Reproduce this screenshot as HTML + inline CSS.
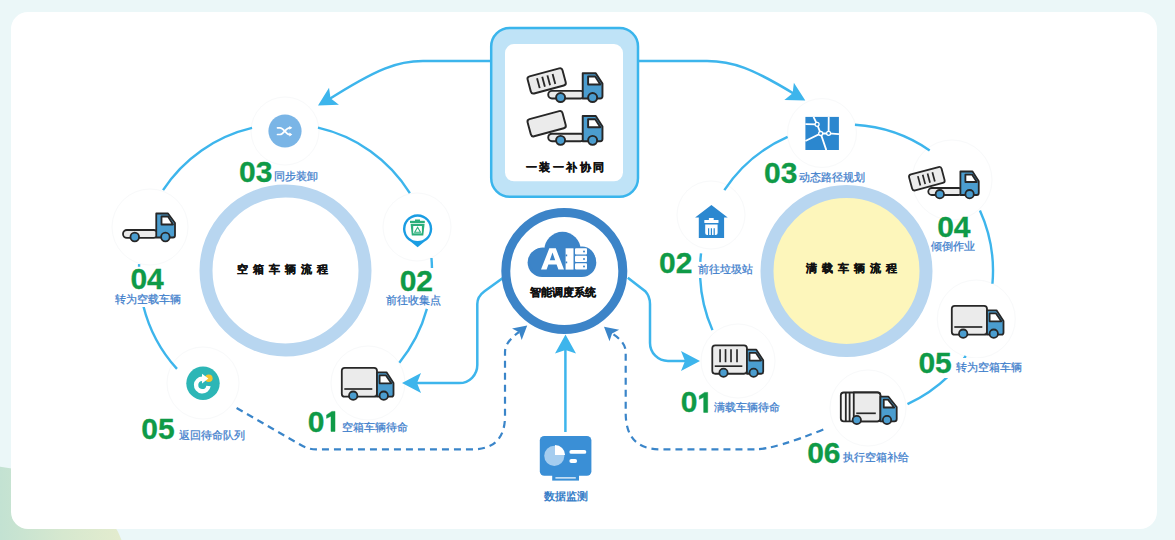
<!DOCTYPE html>
<html><head><meta charset="utf-8"><style>
html,body{margin:0;padding:0;}
body{width:1175px;height:540px;overflow:hidden;position:relative;font-family:"Liberation Sans",sans-serif;
background:#ebf7f8;}
.bg{position:absolute;left:-185px;top:465px;width:310px;height:190px;border-radius:50%;
background:linear-gradient(90deg,#b8ddd5 0%,#c3e2d2 60%,#d6e8cf 80%,#e4ecce 100%);}
.card{position:absolute;left:11px;top:12px;width:1146px;height:517px;background:#fff;border-radius:17px;}
svg{position:absolute;left:0;top:0;}
.num{font-family:"Liberation Sans",sans-serif;font-weight:bold;font-size:30px;fill:#0f9a47;stroke:#0f9a47;stroke-width:0.3px;}
.lbl{font-family:"Liberation Sans",sans-serif;font-size:11px;fill:#3f80cc;stroke:#3f80cc;stroke-width:0.25px;}
.ctr{font-family:"Liberation Sans",sans-serif;font-weight:bold;font-size:11px;fill:#111;letter-spacing:5.0px;stroke:#111;stroke-width:0.3px;}
.boxt{font-family:"Liberation Sans",sans-serif;font-weight:bold;font-size:11px;fill:#111;letter-spacing:2.4px;stroke:#111;stroke-width:0.3px;}
.ai{font-family:"Liberation Sans",sans-serif;font-weight:bold;font-size:11px;fill:#111;stroke:#111;stroke-width:0.25px;}
.mon{font-family:"Liberation Sans",sans-serif;font-weight:bold;font-size:11px;fill:#3a7fc8;}
</style></head><body>
<div class="bg"></div>
<div class="card"></div>
<svg width="1175" height="540" viewBox="0 0 1175 540">
<circle cx="285.5" cy="270.5" r="79.5" fill="#fff" stroke="#b8d6f0" stroke-width="13"/>
<circle cx="846.5" cy="271" r="79.5" fill="#fdf6bb" stroke="#b8d6f0" stroke-width="13"/>
<circle cx="285" cy="131" r="34" fill="#fff" stroke="#f8f9fa" stroke-width="1"/>
<circle cx="150" cy="227" r="38" fill="#fff" stroke="#f8f9fa" stroke-width="1"/>
<circle cx="417" cy="227" r="34" fill="#fff" stroke="#f8f9fa" stroke-width="1"/>
<circle cx="368" cy="383" r="37" fill="#fff" stroke="#f8f9fa" stroke-width="1"/>
<circle cx="203" cy="383" r="36" fill="#fff" stroke="#f8f9fa" stroke-width="1"/>
<circle cx="822" cy="133" r="34.5" fill="#fff" stroke="#f8f9fa" stroke-width="1"/>
<circle cx="711" cy="215" r="34" fill="#fff" stroke="#f8f9fa" stroke-width="1"/>
<circle cx="952" cy="180" r="40" fill="#fff" stroke="#f8f9fa" stroke-width="1"/>
<circle cx="976.3" cy="319" r="39" fill="#fff" stroke="#f8f9fa" stroke-width="1"/>
<circle cx="738" cy="361" r="37" fill="#fff" stroke="#f8f9fa" stroke-width="1"/>
<circle cx="868" cy="408" r="38" fill="#fff" stroke="#f8f9fa" stroke-width="1"/>
<path d="M426.87 308.91 A146.5 146.5 0 0 1 399.35 362.70" fill="none" stroke="#3db5ec" stroke-width="2.4"/>
<path d="M431.46 257.99 A146.5 146.5 0 0 1 431.99 268.45" fill="none" stroke="#3db5ec" stroke-width="2.4"/>
<path d="M317.96 127.64 A146.5 146.5 0 0 1 409.87 193.08" fill="none" stroke="#3db5ec" stroke-width="2.4"/>
<path d="M163.05 190.07 A146.5 146.5 0 0 1 252.05 127.87" fill="none" stroke="#3db5ec" stroke-width="2.4"/>
<path d="M139.05 266.67 A146.5 146.5 0 0 1 139.14 264.11" fill="none" stroke="#3db5ec" stroke-width="2.4"/>
<path d="M176.97 368.91 A146.5 146.5 0 0 1 143.35 305.94" fill="none" stroke="#3db5ec" stroke-width="2.4"/>
<path d="M712.46 330.12 A146.5 146.5 0 0 1 700.16 277.90" fill="none" stroke="#3db5ec" stroke-width="2.4"/>
<path d="M700.29 261.80 A146.5 146.5 0 0 1 701.06 253.40" fill="none" stroke="#3db5ec" stroke-width="2.4"/>
<path d="M724.34 190.14 A146.5 146.5 0 0 1 787.61 136.86" fill="none" stroke="#3db5ec" stroke-width="2.4"/>
<path d="M854.93 124.74 A146.5 146.5 0 0 1 929.69 150.41" fill="none" stroke="#3db5ec" stroke-width="2.4"/>
<path d="M979.92 210.48 A146.5 146.5 0 0 1 992.44 283.77" fill="none" stroke="#3db5ec" stroke-width="2.4"/>
<path d="M965.77 356.07 A146.5 146.5 0 0 1 962.73 360.18" fill="none" stroke="#3db5ec" stroke-width="2.4"/>
<path d="M948.45 376.21 A146.5 146.5 0 0 1 907.49 404.20" fill="none" stroke="#3db5ec" stroke-width="2.4"/>
<path d="M490 61 H423 C398 61 378 68 327 100.5" fill="none" stroke="#3db5ec" stroke-width="2.5"/>
<path d="M318.00 105.50 L329.03 87.68 L330.53 98.21 L338.94 104.71 Z" fill="#3db5ec"/>
<path d="M638 61 H707 C732 61 752 68 796 95" fill="none" stroke="#3db5ec" stroke-width="2.5"/>
<path d="M805.30 100.40 L784.34 100.05 L792.62 93.37 L793.89 82.82 Z" fill="#3db5ec"/>
<path d="M502.5 278.3 L484.5 291.2 Q477.3 296.5 477.3 304 V365 A18 18 0 0 1 459.3 383.1 H412" fill="none" stroke="#3db5ec" stroke-width="2.5"/>
<path d="M402.00 383.10 L421.00 373.10 L417.00 383.10 L421.00 393.10 Z" fill="#3db5ec"/>
<path d="M627.8 277.8 L645.2 291.2 Q650 296.5 650 304 V343 A18 18 0 0 0 668 361 H690" fill="none" stroke="#3db5ec" stroke-width="2.5"/>
<path d="M700.00 361.00 L681.00 371.00 L685.00 361.00 L681.00 351.00 Z" fill="#3db5ec"/>
<path d="M565.4 432 V350" fill="none" stroke="#3db5ec" stroke-width="2.5"/>
<path d="M565.50 334.60 L576.00 353.60 L565.50 350.10 L555.00 353.60 Z" fill="#3db5ec"/>
<path d="M236.6 408 L300 444.5 Q308 449.4 316 449.4 H472 Q505 449.4 505 416 V352 Q505 342 519 332" fill="none" stroke="#3a85c9" stroke-width="2.2" stroke-dasharray="7 5"/>
<path d="M527.20 325.60 L521.68 340.02 L519.16 332.35 L512.04 328.53 Z" fill="#3a85c9"/>
<path d="M823.3 429.4 Q775 449.3 755 449.3 H660 Q625.7 449.3 625.7 413 V352 Q625.7 342 612 333.5" fill="none" stroke="#3a85c9" stroke-width="2.2" stroke-dasharray="7 5"/>
<path d="M604.00 326.80 L619.16 329.73 L612.04 333.55 L609.52 341.22 Z" fill="#3a85c9"/>
<rect x="491.2" y="28" width="146.8" height="168.7" rx="18.5" fill="#bfe3f7" stroke="#3ab5ec" stroke-width="2.5"/>
<rect x="505" y="44" width="118" height="137.3" rx="9" fill="#fff"/>
<circle cx="564.3" cy="271" r="58.5" fill="#fff" stroke="#3c84c8" stroke-width="9"/>
<g transform="translate(526.4,65.1) scale(1.075)" stroke="#272727" stroke-width="1.8" stroke-linejoin="round"><g transform="translate(18.85,14.7) rotate(-15)"><rect x="-16.8" y="-8.25" width="33.6" height="16.5" rx="2.5" fill="#ebebeb"/><path d="M-8 -4.8 V4.8" stroke-width="1.7"/><path d="M-3 -4.8 V4.8" stroke-width="1.7"/><path d="M2 -4.8 V4.8" stroke-width="1.7"/><path d="M7 -4.8 V4.8" stroke-width="1.7"/></g><rect x="20.3" y="24" width="33.7" height="7" rx="3.5" fill="#ebebeb"/><path d="M52.4 31 V7.5 H64.5 L70.75 17.25 V29 Q70.75 31 68.75 31 Z" fill="#4b9dcf"/><path d="M57.4 10.6 H64 L68.8 18 H57.4 Z" fill="#fff"/><circle cx="31.8" cy="30.2" r="4.2" fill="#4b9dcf"/><circle cx="61.6" cy="30.2" r="4.2" fill="#4b9dcf"/></g>
<g transform="translate(526.4,107.9) scale(1.075)" stroke="#272727" stroke-width="1.8" stroke-linejoin="round"><g transform="translate(18.85,14.7) rotate(-15)"><rect x="-16.8" y="-8.25" width="33.6" height="16.5" rx="2.5" fill="#ebebeb"/></g><rect x="20.3" y="24" width="33.7" height="7" rx="3.5" fill="#ebebeb"/><path d="M52.4 31 V7.5 H64.5 L70.75 17.25 V29 Q70.75 31 68.75 31 Z" fill="#4b9dcf"/><path d="M57.4 10.6 H64 L68.8 18 H57.4 Z" fill="#fff"/><circle cx="31.8" cy="30.2" r="4.2" fill="#4b9dcf"/><circle cx="61.6" cy="30.2" r="4.2" fill="#4b9dcf"/></g>
<g transform="translate(122,213)" stroke="#272727" stroke-width="1.8" stroke-linejoin="round"><rect x="1" y="17" width="34.5" height="7.9" rx="3.9" fill="#ebebeb"/><path d="M34.25 24.5 V0.5 H46 L53 10 V22.5 Q53 24.5 51 24.5 Z" fill="#4b9dcf"/><path d="M39.5 3.5 H46 L51 11.5 H39.5 Z" fill="#fff"/><circle cx="12.75" cy="24" r="4.3" fill="#4b9dcf"/><circle cx="43.4" cy="24" r="4.3" fill="#4b9dcf"/></g>
<g transform="translate(341,367) scale(1.0)" stroke="#272727" stroke-width="1.8" stroke-linejoin="round"><rect x="0.8" y="0.8" width="35.2" height="28.9" rx="3" fill="#ebebeb"/><path d="M3.3 22 H31.3" stroke-width="1.7"/><path d="M36 5.3 H45.5 L52.5 16 V27.5 Q52.5 29.7 50.5 29.7 H36 Z" fill="#4b9dcf"/><path d="M38.6 8.4 H45 L50.3 16.3 H38.6 Z" fill="#fff"/><circle cx="12.2" cy="28.7" r="4.2" fill="#4b9dcf"/><circle cx="42.75" cy="28.7" r="4.2" fill="#4b9dcf"/></g>
<g transform="translate(711.5,344.5) scale(0.985)" stroke="#272727" stroke-width="1.8" stroke-linejoin="round"><rect x="0.8" y="0.8" width="35.2" height="28.9" rx="3" fill="#ebebeb"/><path d="M3.3 22 H31.3" stroke-width="1.7"/><path d="M8.7 4.7 V18" stroke-width="1.7"/><path d="M14.25 4.7 V18" stroke-width="1.7"/><path d="M19.8 4.7 V18" stroke-width="1.7"/><path d="M25.9 4.7 V18" stroke-width="1.7"/><path d="M36 5.3 H45.5 L52.5 16 V27.5 Q52.5 29.7 50.5 29.7 H36 Z" fill="#4b9dcf"/><path d="M38.6 8.4 H45 L50.3 16.3 H38.6 Z" fill="#fff"/><circle cx="12.2" cy="28.7" r="4.2" fill="#4b9dcf"/><circle cx="42.75" cy="28.7" r="4.2" fill="#4b9dcf"/></g>
<g transform="translate(951,305) scale(1.0)" stroke="#272727" stroke-width="1.8" stroke-linejoin="round"><rect x="0.8" y="0.8" width="35.2" height="28.9" rx="3" fill="#ebebeb"/><path d="M3.3 22 H31.3" stroke-width="1.7"/><path d="M36 5.3 H45.5 L52.5 16 V27.5 Q52.5 29.7 50.5 29.7 H36 Z" fill="#4b9dcf"/><path d="M38.6 8.4 H45 L50.3 16.3 H38.6 Z" fill="#fff"/><circle cx="12.2" cy="28.7" r="4.2" fill="#4b9dcf"/><circle cx="42.75" cy="28.7" r="4.2" fill="#4b9dcf"/></g>
<g transform="translate(840,392)" stroke="#272727" stroke-width="1.8" stroke-linejoin="round"><rect x="0.8" y="0.5" width="39.6" height="28.8" rx="3" fill="#f6f6f6"/><path d="M13.75 0.5 H37.4 Q40.4 0.5 40.4 3.5 V26.3 Q40.4 29.3 37.4 29.3 H13.75 Z" fill="#ebebeb"/><path d="M5.8 0.8 V29 M9.6 0.8 V29"/><path d="M16.25 21.3 H35.8" stroke-width="1.7"/><path d="M40.4 4.7 H48.5 L56.7 15 V27 Q56.7 29.3 54.5 29.3 H40.4 Z" fill="#4b9dcf"/><path d="M43.75 7.6 H48 L54.2 15.5 H43.75 Z" fill="#fff"/><circle cx="16.8" cy="28" r="4.2" fill="#4b9dcf"/><circle cx="47" cy="28" r="4.2" fill="#4b9dcf"/></g>
<g transform="translate(908,164) scale(1.0)" stroke="#272727" stroke-width="1.8" stroke-linejoin="round"><g transform="translate(18.85,14.7) rotate(-15)"><rect x="-16.8" y="-8.25" width="33.6" height="16.5" rx="2.5" fill="#ebebeb"/><path d="M-8 -4.8 V4.8" stroke-width="1.7"/><path d="M-3 -4.8 V4.8" stroke-width="1.7"/><path d="M2 -4.8 V4.8" stroke-width="1.7"/><path d="M7 -4.8 V4.8" stroke-width="1.7"/></g><rect x="20.3" y="24" width="33.7" height="7" rx="3.5" fill="#ebebeb"/><path d="M52.4 31 V7.5 H64.5 L70.75 17.25 V29 Q70.75 31 68.75 31 Z" fill="#4b9dcf"/><path d="M57.4 10.6 H64 L68.8 18 H57.4 Z" fill="#fff"/><circle cx="31.8" cy="30.2" r="4.2" fill="#4b9dcf"/><circle cx="61.6" cy="30.2" r="4.2" fill="#4b9dcf"/></g>
<circle cx="285" cy="131" r="16.6" fill="#7ab5e6"/>
<g fill="none" stroke="#fff" stroke-width="1.7" stroke-linecap="round"><path d="M277.5 127.8 H280 C284 127.8 285.5 134.5 289.5 134.5 H290.5"/><path d="M277.5 134.5 H280 C284 134.5 285.5 127.8 289.5 127.8 H290.5"/></g>
<path d="M289.3 125.9 L292.3 127.8 L289.3 129.7 Z M289.3 132.6 L292.3 134.5 L289.3 136.4 Z" fill="#fff"/>
<path d="M417.6 247.3 L411.2 242 A14.6 14.6 0 1 1 424 242 Z" fill="#1a9de3"/>
<circle cx="417.6" cy="228.9" r="12.2" fill="#fff"/>
<g fill="#2aae7a"><rect x="410" y="220.8" width="14.8" height="2.2"/><rect x="415" y="219.5" width="5" height="1.6"/><path d="M410.6 223.8 H424.6 L423.3 235.6 H411.8 Z"/></g>
<rect x="413.2" y="226" width="8.7" height="7.3" fill="#fff"/>
<path d="M417.6 227.3 L420.5 232.3 H414.7 Z" fill="none" stroke="#2aae7a" stroke-width="1.1"/>
<circle cx="203" cy="383.3" r="16.7" fill="#2db6b6"/>
<circle cx="208.8" cy="378.3" r="3.8" fill="#f5c431"/>
<path d="M202.3 378.75 A6.25 6.25 0 1 0 208.5 386" fill="none" stroke="#fff" stroke-width="4.4"/>
<path d="M202 373.8 L208.4 378.6 L202 383.4 Z" fill="#fff"/>
<rect x="805.4" y="116.9" width="33.5" height="33.1" fill="#2b87cf"/>
<g fill="none" stroke="#fff" stroke-width="1.8"><path d="M813.50 116.90 L817.10 124.30 L820.70 133.50 L826.30 150.10 M805.40 124.10 L817.10 124.30 M805.40 141.00 L820.70 133.50 L828.60 133.30 L839.00 134.10 M828.70 116.90 L828.60 133.30"/></g>
<circle cx="817.10" cy="124.30" r="2" fill="#2b87cf" stroke="#fff" stroke-width="1.3"/>
<circle cx="820.70" cy="133.50" r="2" fill="#2b87cf" stroke="#fff" stroke-width="1.3"/>
<circle cx="828.60" cy="133.30" r="2" fill="#2b87cf" stroke="#fff" stroke-width="1.3"/>
<path d="M711.4 204.9 L727.7 217.6 H724.1 V238 H698.8 V217.6 H695.1 Z" fill="#2b88d0"/>
<g fill="#fff"><rect x="704.3" y="219.9" width="14.2" height="3" rx="0.5"/><rect x="708.9" y="218" width="4.8" height="2.5"/><path d="M705.2 224.5 H717.6 V233 Q717.6 235 715.6 235 H707.2 Q705.2 235 705.2 233 Z"/></g>
<g stroke="#2b88d0" stroke-width="1.2"><path d="M708.6 228.3 V235 M711.4 228.3 V235 M714.2 228.3 V235"/></g>
<rect x="539.8" y="436" width="51.6" height="39.8" rx="4.5" fill="#3a8fd6"/>
<path d="M552.2 474 H579 V480.6 H552.2 Z" fill="#3a8fd6"/>
<rect x="555.4" y="477.3" width="20.4" height="1.2" fill="#fff"/>
<circle cx="554.3" cy="455.8" r="10.1" fill="#a5cdef"/>
<path d="M555 455.1 V445 A10.1 10.1 0 0 1 565.1 455.1 Z" fill="#fff"/>
<rect x="569.4" y="450" width="16.9" height="3.8" rx="1.9" fill="#fff"/>
<rect x="569.4" y="459.1" width="7.7" height="3.8" rx="1.9" fill="#fff"/>
<g fill="#3c84c8"><rect x="527.6" y="248" width="68.7" height="29" rx="14.5"/><circle cx="562.5" cy="250" r="18.2"/><circle cx="543" cy="261" r="13.5"/><circle cx="582" cy="260" r="13.5"/></g>
<path d="M541 269.6 L549.3 248.3 H555.8 L564 269.6 H558.4 L556.6 264.5 H548.4 L546.6 269.6 Z M549.8 260.2 H555.2 L552.5 252.6 Z" fill="#fff"/>
<rect x="565.6" y="248.3" width="7.9" height="21.3" fill="#fff"/>
<g fill="#3c84c8"><rect x="565.6" y="254.5" width="1.6" height="1.8"/><rect x="565.6" y="261.5" width="1.6" height="1.8"/></g>
<g fill="#fff"><rect x="575" y="248.3" width="12" height="6.3" rx="1"/><rect x="575" y="255.8" width="12" height="6.3" rx="1"/><rect x="575" y="263.3" width="12" height="6.3" rx="1"/></g>
<g fill="#3c84c8"><circle cx="584" cy="251.4" r="1"/><circle cx="584" cy="258.9" r="1"/><circle cx="584" cy="266.4" r="1"/></g>
<rect x="399" y="268" width="36" height="24" fill="#fff"/>
<rect x="385" y="292" width="58" height="16" fill="#fff"/>
<rect x="129" y="267" width="36" height="25" fill="#fff"/>
<rect x="113" y="291" width="71" height="16" fill="#fff"/>
<rect x="696" y="262" width="60" height="16" fill="#fff"/>
<rect x="953" y="358" width="72" height="18" fill="#fff"/>
<rect x="915" y="351" width="37" height="27" fill="#fff"/>
<text x="239" y="181.6" class="num">03</text>
<text x="273.9" y="180.3" class="lbl">同步装卸</text>
<text x="399.7" y="291.3" class="num">02</text>
<text x="385.7" y="303.9" class="lbl">前往收集点</text>
<text x="130.4" y="289.4" class="num">04</text>
<text x="115.2" y="302.6" class="lbl">转为空载车辆</text>
<text x="141.3" y="439.25" class="num">05</text>
<text x="179.4" y="438.6" class="lbl">返回待命队列</text>
<text x="307.7" y="431.7" class="num">0</text>
<text x="342.4" y="431.1" class="lbl">空箱车辆待命</text>
<path d="M331 431.4 V416.2 L326.6 418.3 V414.9 L331.9 411.4 H335 V431.4 Z" fill="#0f9a47" stroke="#0f9a47" stroke-width="0.5"/>
<text x="764.1" y="182.75" class="num">03</text>
<text x="798.6" y="180.7" class="lbl">动态路径规划</text>
<text x="659.1" y="273.35" class="num">02</text>
<text x="698" y="272.5" class="lbl">前往垃圾站</text>
<text x="937.2" y="236.9" class="num">04</text>
<text x="930.6" y="250.2" class="lbl">倾倒作业</text>
<text x="918.4" y="372.55" class="num">05</text>
<text x="956.3" y="370.8" class="lbl">转为空箱车辆</text>
<text x="680.7" y="412.4" class="num">0</text>
<text x="714.3" y="410.7" class="lbl">满载车辆待命</text>
<path d="M703.7 412.4 V397.2 L699.3 399.3 V395.9 L704.6 392.4 H707.7 V412.4 Z" fill="#0f9a47" stroke="#0f9a47" stroke-width="0.5"/>
<text x="807.2" y="463.25" class="num">06</text>
<text x="843.3" y="460.9" class="lbl">执行空箱补给</text>
<text x="236.9" y="273.2" class="ctr">空箱车辆流程</text>
<text x="805.5" y="272.2" class="ctr">满载车辆流程</text>
<text x="526" y="170.6" class="boxt">一装一补协同</text>
<text x="529.5" y="295.5" class="ai">智能调度系统</text>
<text x="543.5" y="500.2" class="mon">数据监测</text>
</svg>
</body></html>
